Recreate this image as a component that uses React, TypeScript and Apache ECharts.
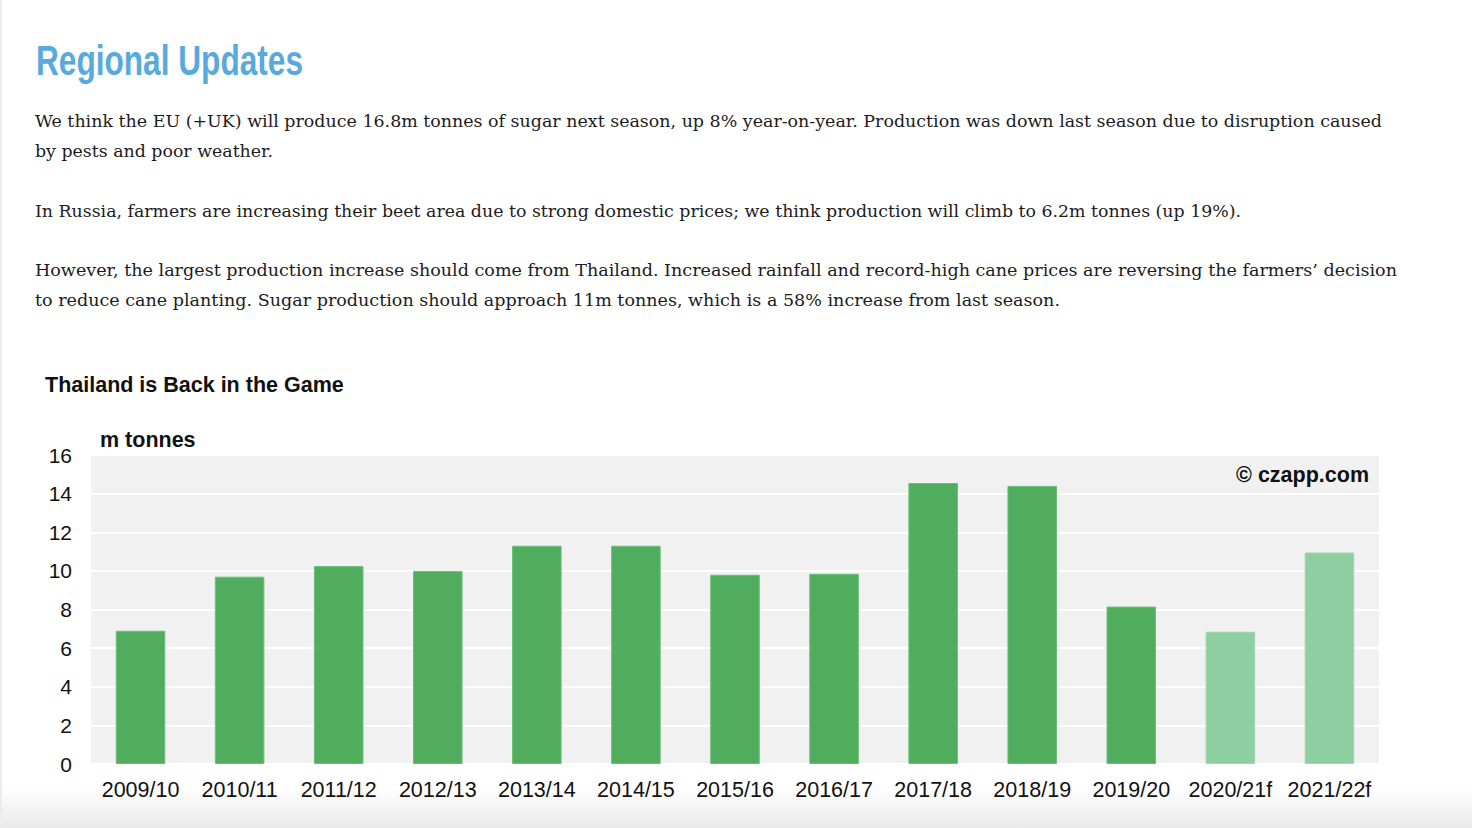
import React, { useEffect, useRef } from "react";
import * as echarts from "echarts";

const heading = "Regional Updates";
const paragraphLines = [
  "We think the EU (+UK) will produce 16.8m tonnes of sugar next season, up 8% year-on-year. Production was down last season due to disruption caused",
  "by pests and poor weather.",
  "In Russia, farmers are increasing their beet area due to strong domestic prices; we think production will climb to 6.2m tonnes (up 19%).",
  "However, the largest production increase should come from Thailand. Increased rainfall and record-high cane prices are reversing the farmers\u2019 decision",
  "to reduce cane planting. Sugar production should approach 11m tonnes, which is a 58% increase from last season.",
];
const chartTitle = "Thailand is Back in the Game";
const unitLabel = "m tonnes";
const watermark = "\u00a9 czapp.com";

const categories = [
  "2009/10", "2010/11", "2011/12", "2012/13", "2013/14", "2014/15", "2015/16",
  "2016/17", "2017/18", "2018/19", "2019/20", "2020/21f", "2021/22f",
];
const production = [6.9, 9.7, 10.25, 10.0, 11.3, 11.3, 9.8, 9.85, 14.55, 14.4, 8.15, 6.85, 10.95];
const isForecast = [false, false, false, false, false, false, false, false, false, false, false, true, true];
const yMin = 0;
const yMax = 16;
const yInterval = 2;

// layout for the text lines: [x, baseline y, width]
const lineLayout = [
  [35, 127, 1347],
  [35, 157, 238],
  [35, 217, 1206],
  [35, 276, 1362],
  [35, 306, 1025],
];

const FONT = "'Liberation Sans', Arial, Helvetica, sans-serif";

export default function App() {
  const ref = useRef<HTMLDivElement>(null);

  useEffect(() => {
    if (!ref.current) return;
    const chart = echarts.init(ref.current, undefined, { renderer: "svg" });
    chart.setOption({
      animation: false,
      backgroundColor: "transparent",
      grid: {
        left: 91,
        right: 93,
        top: 455,
        bottom: 64,
        show: true,
        backgroundColor: "#f1f1f1",
        borderWidth: 0,
        containLabel: false,
      },
      xAxis: {
        type: "category",
        data: categories,
        axisLine: { show: false },
        axisTick: { show: false },
        axisLabel: {
          fontFamily: FONT,
          fontSize: 21.5,
          color: "#111",
          margin: 15,
          interval: 0,
        },
      },
      yAxis: {
        type: "value",
        min: yMin,
        max: yMax,
        interval: yInterval,
        axisLine: { show: false },
        axisTick: { show: false },
        axisLabel: {
          fontFamily: FONT,
          fontSize: 21,
          color: "#111",
          margin: 19,
        },
        splitLine: { show: true, lineStyle: { color: "#ffffff", width: 2 } },
      },
      graphic: [
        {
          type: "text",
          left: 45,
          top: 374,
          style: { text: chartTitle, font: `bold 21.5px ${FONT}`, fill: "#111" },
        },
        {
          type: "text",
          left: 100,
          top: 429,
          style: { text: unitLabel, font: `bold 21.5px ${FONT}`, fill: "#111" },
        },
        {
          type: "text",
          right: 103,
          top: 464,
          z: 10,
          style: { text: watermark, font: `bold 21.5px ${FONT}`, fill: "#111" },
        },
      ],
      series: [
        {
          type: "bar",
          barWidth: "50%",
          data: production.map((v, i) => ({
            value: v,
            itemStyle: {
              color: isForecast[i] ? "#8ecfa2" : "#50ad5e",
              borderColor: isForecast[i] ? "#9dd6ae" : "#6dbd78",
              borderWidth: 1,
            },
          })),
        },
      ],
    });
    return () => chart.dispose();
  }, []);

  return (
    <div
      style={{
        position: "fixed",
        left: 0,
        top: 0,
        width: 1472,
        height: 828,
        background: "#ffffff",
        overflow: "hidden",
        borderLeft: "2px solid #ececec",
        boxSizing: "border-box",
      }}
    >
      <div
        style={{
          position: "absolute",
          left: 0,
          right: 0,
          bottom: 0,
          height: 40,
          background: "linear-gradient(to bottom, #ffffff, #e9e9e9)",
        }}
      />
      <svg
        width={1472}
        height={340}
        style={{ position: "absolute", left: -2, top: 0 }}
      >
        <text
          x={36}
          y={75}
          textLength={267}
          lengthAdjust="spacingAndGlyphs"
          fill="#58aadd"
          style={{ font: `bold 42px 'Liberation Sans Narrow', 'Liberation Sans', Arial, sans-serif` }}
        >
          {heading}
        </text>
        {paragraphLines.map((t, i) => (
          <text
            key={i}
            x={lineLayout[i][0]}
            y={lineLayout[i][1]}
            textLength={lineLayout[i][2]}
            lengthAdjust="spacingAndGlyphs"
            fill="#1c1c1c"
            style={{ font: `17px 'DejaVu Serif', serif` }}
          >
            {t}
          </text>
        ))}
      </svg>
      <div
        ref={ref}
        style={{ position: "absolute", left: -2, top: 0, width: 1472, height: 828 }}
      />
    </div>
  );
}
